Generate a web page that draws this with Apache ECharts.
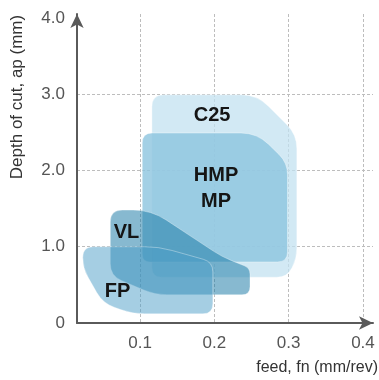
<!DOCTYPE html>
<html><head><meta charset="utf-8">
<script src="https://cdn.jsdelivr.net/npm/echarts@6/dist/echarts.min.js"></script>
<style>html,body{margin:0;padding:0;background:#fff}#c{width:379px;height:380px}</style>
</head><body><div id="c"></div>
<script>
// ---- data ----
const xTickValues = [0.1, 0.2, 0.3, 0.4];
const yTickValues = [0, 1, 2, 3, 4];
const yGridValues = [1, 2, 3];
const regionNames = ['C25', 'HMP', 'VL', 'FP'];
// region outlines (feed mm/rev, depth mm)
const c25Outline = [[0.116,0.6],[0.116,2.99],[0.2575,2.99],[0.311,2.47],[0.311,0.85],[0.298,0.6]];
const hmpOutline = [[0.103,0.8],[0.103,2.49],[0.2575,2.49],[0.2985,2.1],[0.2985,0.8]];
const vlOutline  = [[0.06,0.62],[0.06,1.48],[0.115,1.48],[0.21,0.87],[0.248,0.72],[0.248,0.37],[0.12,0.37]];
const fpOutline  = [[0.023,0.72],[0.023,1.0],[0.125,1.0],[0.198,0.8],[0.198,0.12],[0.09,0.12],[0.05,0.26]];
const labelNames = ['C25', 'HMP', 'MP', 'VL', 'FP'];
const labelX = [0.197, 0.2023, 0.2023, 0.0818, 0.0697];
const labelY = [2.715, 1.94, 1.587, 1.19, 0.41];

// ---- styles ----
const outlines = [c25Outline, hmpOutline, vlOutline, fpOutline];
const fills = ['rgba(195,226,240,0.75)', 'rgba(140,196,222,0.8)', 'rgba(25,120,165,0.52)', 'rgba(75,158,200,0.5)'];
const cornerR = [[10,12,16,14,10,10],[8,10,16,12,10],[12,12,18,10,6,8,12],[12,12,14,10,10,12,12]];

function roundedPath(pts, radii) {
  const n = pts.length; let d = '';
  for (let i = 0; i < n; i++) {
    const p0 = pts[(i - 1 + n) % n], p1 = pts[i], p2 = pts[(i + 1) % n];
    const l1 = Math.hypot(p0[0]-p1[0], p0[1]-p1[1]), l2 = Math.hypot(p2[0]-p1[0], p2[1]-p1[1]);
    const r = Math.min(radii[i] || 8, l1/2, l2/2);
    const a = [p1[0] + (p0[0]-p1[0]) * r / l1, p1[1] + (p0[1]-p1[1]) * r / l1];
    const b = [p1[0] + (p2[0]-p1[0]) * r / l2, p1[1] + (p2[1]-p1[1]) * r / l2];
    d += (i === 0 ? 'M' : 'L') + a[0] + ' ' + a[1] + ' Q' + p1[0] + ' ' + p1[1] + ' ' + b[0] + ' ' + b[1] + ' ';
  }
  return d + 'Z';
}

const regionSeries = regionNames.map((name, k) => ({
  type: 'custom', name: name, silent: true, z: 2 + k,
  data: outlines[k],
  renderItem: function (params, api) {
    if (params.dataIndex !== 0) return null;
    const pts = outlines[k].map(p => api.coord(p));
    return { type: 'path', shape: { pathData: roundedPath(pts, cornerR[k]) },
             style: { fill: fills[k], stroke: 'rgba(255,255,255,0.35)', lineWidth: 1 } };
  }
}));

const chart = echarts.init(document.getElementById('c'));
const font = 'Liberation Sans, Arial, sans-serif';
chart.setOption({
  animation: false,
  grid: { left: 77, right: 6, top: 14, bottom: 57 },
  xAxis: {
    type: 'value', min: 0.0152, max: 0.4135,
    axisLine: { show: true, lineStyle: { color: '#5a5a5a', width: 2 }, symbol: ['none', 'arrow'], symbolSize: [10, 14] },
    axisTick: { show: false, customValues: xTickValues },
    axisLabel: { customValues: xTickValues, color: '#555', fontSize: 17, fontFamily: font, margin: 12,
                 formatter: v => v.toFixed(1) },
    splitLine: { show: true, lineStyle: { color: '#bdbdbd', type: [3, 2], width: 1 } }
  },
  yAxis: {
    type: 'value', min: 0, max: 4.05,
    axisLine: { show: true, lineStyle: { color: '#5a5a5a', width: 2 }, symbol: ['none', 'arrow'], symbolSize: [10, 14] },
    axisTick: { show: false, customValues: yGridValues },
    axisLabel: { customValues: yTickValues, color: '#555', fontSize: 17, fontFamily: font, margin: 12,
                 formatter: v => v === 0 ? '0' : v.toFixed(1) },
    splitLine: { show: true, lineStyle: { color: '#bdbdbd', type: [3, 2], width: 1 } }
  },
  graphic: [
    { type: 'text', x: 17, y: 97, rotation: Math.PI / 2,
      style: { text: 'Depth of cut, ap (mm)', fill: '#333', font: '17px ' + font, align: 'center', verticalAlign: 'middle' } },
    { type: 'text', x: 378, y: 368,
      style: { text: 'feed, fn (mm/rev)', fill: '#333', font: '16px ' + font, align: 'right', verticalAlign: 'middle' } }
  ],
  series: regionSeries.concat([{
    type: 'scatter', silent: true, z: 10, symbolSize: 0, itemStyle: { opacity: 0 },
    data: labelNames.map((n, i) => ({ name: n, value: [labelX[i], labelY[i]] })),
    label: { show: true, position: 'inside', formatter: '{b}', color: '#151515', opacity: 1,
             textBorderWidth: 0, fontSize: 20, fontWeight: 'bold', fontFamily: font }
  }])
});
</script>
</body></html>
